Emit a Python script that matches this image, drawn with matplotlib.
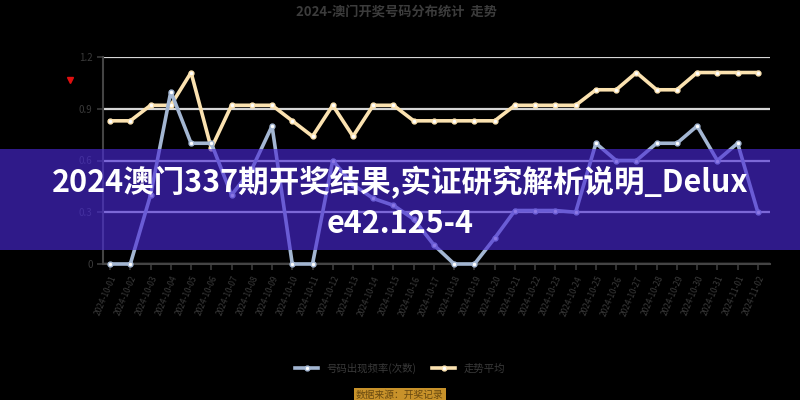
import matplotlib
matplotlib.use('Agg')
import matplotlib.pyplot as plt
from matplotlib.lines import Line2D
from matplotlib.patches import Rectangle
import pandas as pd

plt.rcParams['font.family'] = ['Noto Sans CJK SC', 'DejaVu Sans']

# x categories (33 draws) and the two series
dates = list(pd.date_range('2024-10-01', periods=33).strftime('%Y-%m-%d'))
freq = [0, 0, 0.40, 1.00, 0.70, 0.70, 0.40, 0.55, 0.80, 0, 0,
        0.60, 0.46, 0.38, 0.34, 0.26, 0.11, 0, 0, 0.15, 0.31, 0.31,
        0.31, 0.30, 0.70, 0.60, 0.60, 0.70, 0.70, 0.80, 0.60, 0.70, 0.30]
trend = [0.83, 0.83, 0.92, 0.92, 1.11, 0.67, 0.92, 0.92, 0.92, 0.83, 0.74,
         0.92, 0.74, 0.92, 0.92, 0.83, 0.83, 0.83, 0.83, 0.83, 0.92, 0.92,
         0.92, 0.92, 1.01, 1.01, 1.11, 1.01, 1.01, 1.11, 1.11, 1.11, 1.11]
yticks = [0, 0.3, 0.6, 0.9, 1.2]
names = ['号码出现频率(次数)', '走势平均']

fig = plt.figure(figsize=(8, 4), dpi=100, facecolor='black')
ax = fig.add_axes([0.12875, 0.34, 0.83375, 0.5175])
ax.set_facecolor('black')

x = list(range(len(dates)))
ax.plot(x, trend, color='#fbe2b0', lw=2.6, marker='o', ms=3.5,
        mfc='white', mec='#fbe2b0', mew=1, clip_on=False, zorder=3, label=names[1])
ax.plot(x, freq, color='#a3b6d2', lw=2.6, marker='o', ms=3.5,
        mfc='white', mec='#a3b6d2', mew=1, clip_on=False, zorder=4, label=names[0])

ax.set_xlim(-0.35, 32.6)
ax.set_ylim(0, 1.2)
ax.set_yticks(yticks)
ax.set_yticklabels([str(t) for t in yticks])
ax.yaxis.grid(True, color='#d6d6d6', lw=1.6)
ax.set_axisbelow(True)
for s in ['top', 'right']:
    ax.spines[s].set_visible(False)
ax.spines['left'].set_color('#444444')
ax.spines['bottom'].set_color('#444444')
ax.spines['left'].set_linewidth(1.5)
ax.spines['bottom'].set_linewidth(1.5)
ax.tick_params(axis='y', colors='#3a3a3a', labelsize=7, length=4, width=1.2)
ax.tick_params(axis='x', colors='#3a3a3a', labelsize=6, length=4, width=1.2)
ax.set_xticks(x)
ax.set_xticklabels(dates, rotation=67, ha='right', va='top', rotation_mode='anchor')

fig.text(0.495, 0.97, '2024-澳门开奖号码分布统计  走势', ha='center', va='center',
         color='#3c3c3c', fontsize=9.5, fontweight='bold')

# small red marker near the y axis
fig.add_artist(Line2D([0.087], [0.80], marker='v', color='#e01010', ms=5,
                      transform=fig.transFigure))

h, l = ax.get_legend_handles_labels()
leg = fig.legend(h[::-1], l[::-1], loc='center', bbox_to_anchor=(0.5, 0.08),
                 ncol=2, frameon=False, fontsize=7.5, handlelength=2.2,
                 columnspacing=1.5)
for t in leg.get_texts():
    t.set_color('#3a3a3a')

fig.text(0.5, 0.012, '数据来源：开奖记录', ha='center', va='center', fontsize=7,
         color='#6a4a10', bbox=dict(boxstyle='square,pad=0.25', fc='#c8922a', ec='none'))

# overlay banner
fig.add_artist(Rectangle((0, 0.375), 1, 0.2525, transform=fig.transFigure,
                         facecolor='#4a2ad8', alpha=0.64, edgecolor='none', zorder=10))
fig.text(0.5, 0.5425, '2024澳门337期开奖结果,实证研究解析说明_Delux', ha='center',
         va='center', color='white', fontsize=22, fontweight='bold', zorder=11)
fig.text(0.5, 0.44, 'e42.125-4', ha='center', va='center', color='white',
         fontsize=22, fontweight='bold', zorder=11)

fig.savefig('out.png', dpi=100, facecolor='black')
